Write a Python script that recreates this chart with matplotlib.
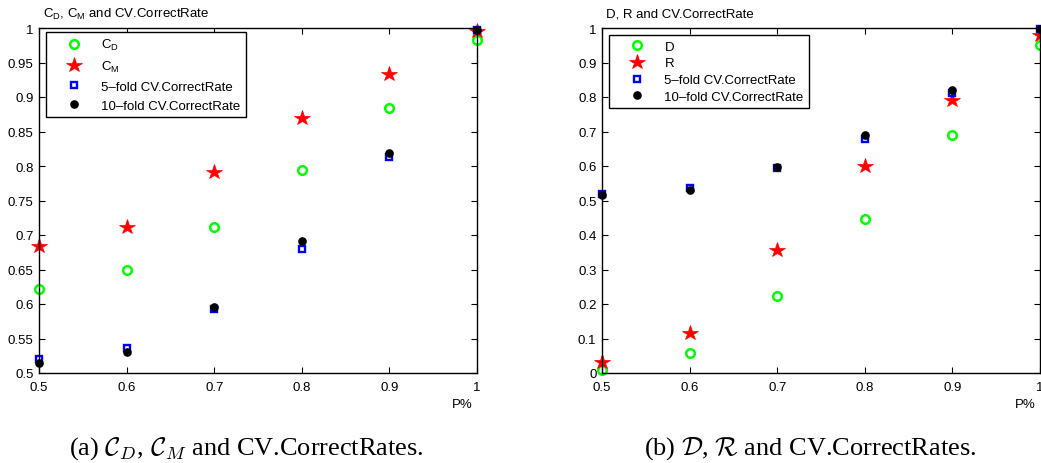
import matplotlib
matplotlib.use('Agg')
import matplotlib.pyplot as plt
from matplotlib.ticker import FormatStrFormatter, MultipleLocator

plt.rcParams.update({
    'font.family': ['Liberation Sans', 'DejaVu Sans'],
    'font.size': 9.5,
    'mathtext.fontset': 'custom',
    'mathtext.rm': 'Liberation Sans',
    'mathtext.it': 'Liberation Sans:italic',
    'mathtext.bf': 'Liberation Sans:bold',
})

# ---- data -------------------------------------------------------------
P = [0.5, 0.6, 0.7, 0.8, 0.9, 1.0]
C_D = [0.622, 0.650, 0.711, 0.794, 0.884, 0.982]
C_M = [0.684, 0.712, 0.791, 0.869, 0.933, 0.995]
D = [0.008, 0.058, 0.222, 0.447, 0.689, 0.952]
R = [0.032, 0.116, 0.357, 0.600, 0.792, 0.980]
CV5 = [0.520, 0.536, 0.593, 0.679, 0.813, 0.997]
CV10 = [0.515, 0.530, 0.596, 0.691, 0.819, 0.997]

W, H = 1041, 464
fig = plt.figure(figsize=(W / 100, H / 100), dpi=100)


def px_axes(x0, x1, y0, y1):
    return fig.add_axes([x0 / W, 1 - y1 / H, (x1 - x0) / W, (y1 - y0) / H])


def draw(ax, first, second, labels, ylim, ystep, title, leg_anchor, spacing):
    kw = dict(linestyle='none', clip_on=False)
    ax.plot(P, first, marker='o', markersize=6.2, markerfacecolor='none',
            markeredgecolor=(0, 1, 0), markeredgewidth=1.8, label=labels[0], **kw)
    ax.plot(P, second, marker='*', markersize=11.5, color='red',
            markeredgewidth=0.5, label=labels[1], **kw)
    ax.plot(P, CV5, marker='s', markersize=5, markerfacecolor='none',
            markeredgecolor='blue', markeredgewidth=1.7,
            label='5\u2013fold CV.CorrectRate', **kw)
    ax.plot(P, CV10, marker='o', markersize=5.2, color='black',
            label='10\u2013fold CV.CorrectRate', **kw)
    ax.set_xlim(0.5, 1.0)
    ax.set_ylim(*ylim)
    ax.xaxis.set_major_locator(MultipleLocator(0.1))
    ax.yaxis.set_major_locator(MultipleLocator(ystep))
    ax.xaxis.set_major_formatter(FormatStrFormatter('%g'))
    ax.yaxis.set_major_formatter(FormatStrFormatter('%g'))
    ax.tick_params(direction='in', top=True, right=True, length=4,
                   width=0.8, labelsize=9.5)
    ax.tick_params(axis='x', pad=6)
    ax.tick_params(axis='y', pad=4)
    for s in ax.spines.values():
        s.set_linewidth(1.0)
    ax.text(0.01, 1.043, title, transform=ax.transAxes, ha='left',
            va='center', fontsize=9.5)
    ax.text(0.966, -0.09, 'P%', transform=ax.transAxes, ha='center',
            va='center', fontsize=9.5)
    leg = ax.legend(loc='upper left', bbox_to_anchor=leg_anchor,
                    bbox_transform=fig.transFigure, fancybox=False,
                    edgecolor='black', framealpha=1, fontsize=9.5,
                    handlelength=3.5, handletextpad=0.3, borderpad=0.4,
                    labelspacing=spacing, borderaxespad=0)
    leg.get_frame().set_linewidth(1.0)


ax1 = px_axes(39, 477, 29, 374)
draw(ax1, C_D, C_M, ['C$_\\mathrm{D}$', 'C$_\\mathrm{M}$'], (0.5, 1.0), 0.05,
     'C$_\\mathrm{D}$, C$_\\mathrm{M}$ and CV.CorrectRate', (46 / W, 1 - 33 / H), 0.5)

ax2 = px_axes(602, 1040, 29, 374)
draw(ax2, D, R, ['D', 'R'], (0.0, 1.0), 0.1,
     'D, R and CV.CorrectRate', (609 / W, 1 - 36 / H), 0.35)

cap = dict(ha='center', va='center', fontsize=19,
           family=['Liberation Serif', 'DejaVu Serif'], math_fontfamily='cm')
fig.text(246 / W, 1 - 449 / H,
         '(a) $\\mathcal{C}_D$, $\\mathcal{C}_M$ and CV.CorrectRates.', **cap)
fig.text(810 / W, 1 - 449 / H,
         '(b) $\\mathcal{D}$, $\\mathcal{R}$ and CV.CorrectRates.', **cap)

fig.savefig('out.png', dpi=100)
